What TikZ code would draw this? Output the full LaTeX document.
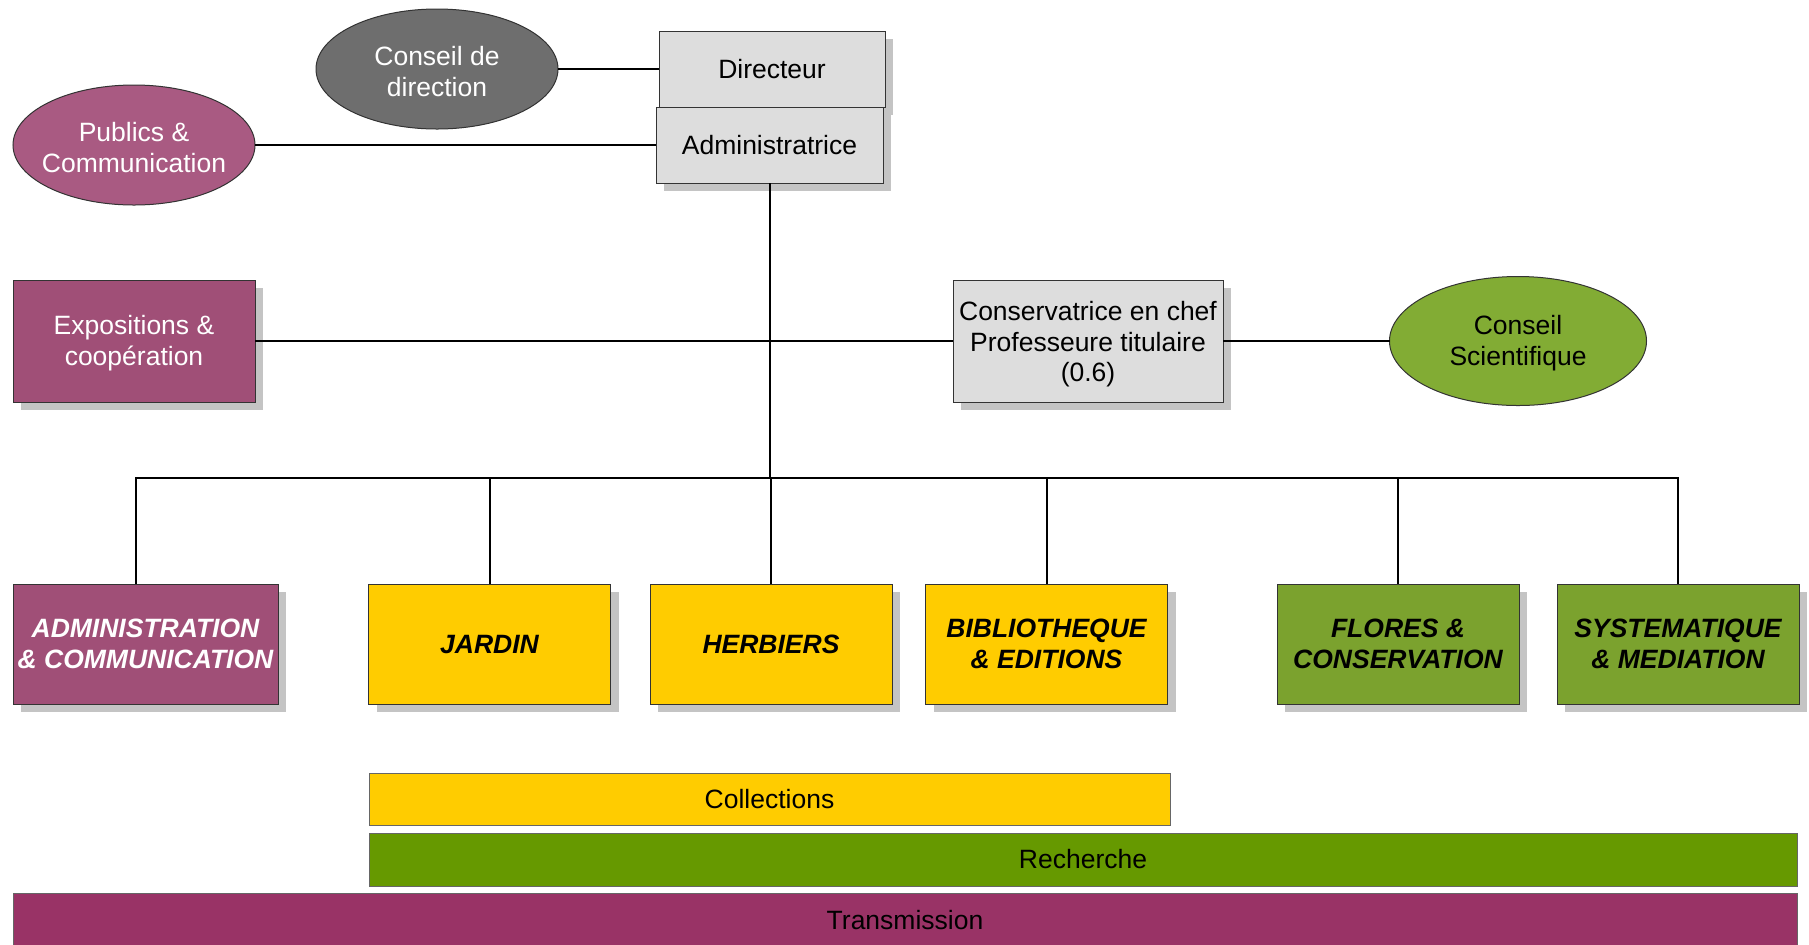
\documentclass[tikz,border=0pt]{standalone}
\usepackage{fontspec}
\setmainfont{Liberation Sans}
\usetikzlibrary{shapes.geometric,shadows}

\definecolor{boxgray}{HTML}{DDDDDD}
\definecolor{shadowgray}{HTML}{C4C4C4}
\definecolor{cdgray}{HTML}{6E6E6E}
\definecolor{pubmag}{HTML}{A95A82}
\definecolor{expmag}{HTML}{A04F77}
\definecolor{transmag}{HTML}{993366}
\definecolor{csgreen}{HTML}{82AC34}
\definecolor{unitgreen}{HTML}{7BA22E}
\definecolor{rechgreen}{HTML}{669900}
\definecolor{collyellow}{HTML}{FFCC00}

% Text etwas tiefer setzen, ohne die Knotengroesse zu aendern
\newcommand{\lowtxt}[2][2pt]{\raisebox{-#1}[\height][\depth]{\begin{tabular}{@{}c@{}}#2\end{tabular}}}
% Text im Oval: Breite zaehlt nicht fuer die Groesse der Ellipse
\newcommand{\ovaltxt}[2][2.9pt]{\makebox[0pt]{\lowtxt[#1]{#2}}}

\begin{document}
\begin{tikzpicture}[x=0.5pt, y=-0.5pt,
    every node/.style={font=\fontsize{13.25}{15.2}\selectfont, inner sep=0pt, outer sep=0pt, align=center},
    box/.style={draw=black!80, line width=0.5pt, fill=#1, minimum width=121pt, minimum height=61pt,
        drop shadow={shadow xshift=4pt, shadow yshift=-4pt, fill=shadowgray, opacity=1}},
    unit/.style={box=#1, minimum height=60pt, font=\fontsize{13.25}{15.2}\selectfont\bfseries\itshape},
    oval/.style={ellipse, draw=black!80, line width=0.5pt, fill=#1, minimum width=121pt, minimum height=60pt},
    band/.style={draw=black!60, line width=0.5pt, fill=#1},
    link/.style={line width=1pt}]
    \useasboundingbox (0,0) rectangle (1809,944);

    % Leitung
    \node[oval=cdgray, text=white] (cdir) at (437,69) {\ovaltxt{Conseil de\\direction}};
    \node[oval=pubmag, text=white] (pub) at (134,145) {\ovaltxt{Publics \&\\Communication}};
    \node[box=boxgray, minimum width=113pt, minimum height=38pt] (dir) at (772,69) {Directeur};
    \node[box=boxgray, minimum width=113.5pt, minimum height=38pt] (adm) at (769.5,145) {Administratrice};

    % mittlere Ebene
    \node[box=expmag, text=white] (expo) at (134,341) {\lowtxt[1.5pt]{Expositions \&\\coopération}};
    \node[box=boxgray, minimum width=135pt] (cons) at (1088,341) {\lowtxt{Conservatrice en chef\\Professeure titulaire\\(0.6)}};
    \node[oval=csgreen, minimum width=128.5pt, minimum height=64.5pt] (cs) at (1518,341) {\ovaltxt[1.5pt]{Conseil\\Scientifique}};

    % Abteilungen
    \node[unit=expmag, text=white, minimum width=132.5pt] (admu) at (145.5,644) {ADMINISTRATION\\\& COMMUNICATION};
    \node[unit=collyellow] (jard) at (489.5,644) {JARDIN};
    \node[unit=collyellow] (herb) at (771,644) {HERBIERS};
    \node[unit=collyellow] (bibl) at (1046.5,644) {BIBLIOTHEQUE\\\& EDITIONS};
    \node[unit=unitgreen] (flor) at (1398,644) {FLORES \&\\CONSERVATION};
    \node[unit=unitgreen] (syst) at (1678,644) {SYSTEMATIQUE\\\& MEDIATION};

    % Baender
    \node[band=collyellow, minimum width=400.5pt, minimum height=26pt] (coll) at (769.5,799) {Collections};
    \node[band=rechgreen, minimum width=714pt, minimum height=26.5pt] (rech) at (1083,859.5) {Recherche};
    \node[band=transmag, minimum width=892pt, minimum height=27pt] (trans) at (905,920) {Transmission};

    % Verbindungen
    \coordinate (bus) at (769.5,478);
    \draw[link] (cdir.east) -- (dir.west);
    \draw[link] (pub.east) -- (adm.west);
    \draw[link] (adm.south) -- (bus);
    \draw[link] (expo.east) -- (cons.west);
    \draw[link] (cons.east) -- (cs.west);
    \draw[link] (bus) -| ([xshift=-5pt]admu.north);
    \draw[link] (bus) -| (jard.north);
    \draw[link] (bus) -| (herb.north);
    \draw[link] (bus) -| (bibl.north);
    \draw[link] (bus) -| (flor.north);
    \draw[link] (bus) -| (syst.north);
\end{tikzpicture}
\end{document}
